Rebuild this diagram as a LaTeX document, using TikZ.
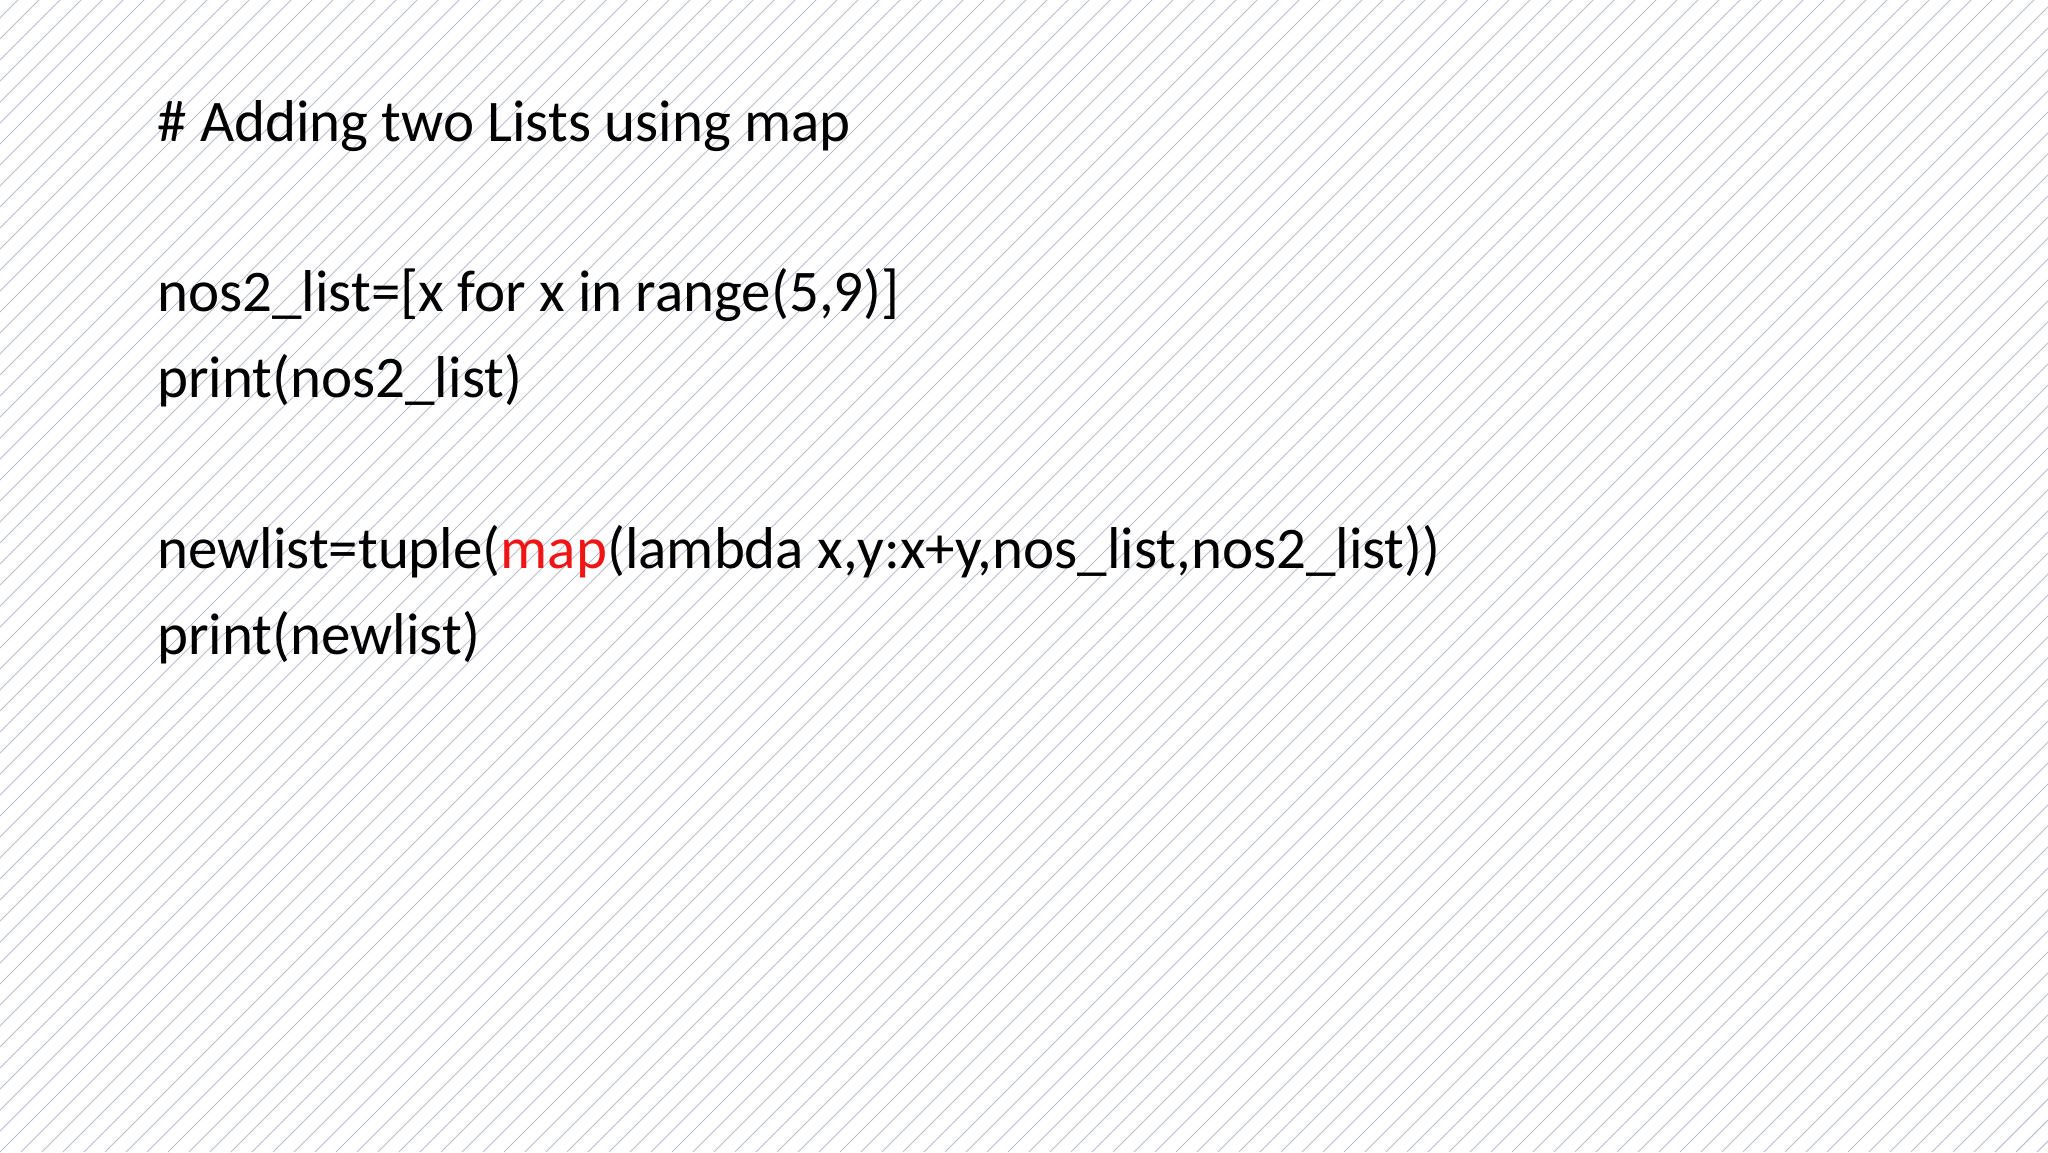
\documentclass[tikz,border=0pt]{standalone}
\usepackage{fontspec}
\setmainfont{Carlito}
\definecolor{hatch}{RGB}{185,192,204}
\definecolor{mapred}{RGB}{240,20,20}
\begin{document}
\begin{tikzpicture}[x=1pt,y=1pt,code/.style={anchor=base west,inner sep=0pt,font=\fontsize{29.5}{36}\selectfont}]
\useasboundingbox (0,0) rectangle (1024,576);
\fill[white] (0,0) rectangle (1024,576);
\begin{scope}
\clip (0,0) rectangle (1024,576);
\foreach \i in {-60,...,100} {
  \draw[hatch,line width=0.5pt] (\i*10.5,0) -- ++(600,600);
}
\end{scope}
\node[code] (l1) at (78.5,576-71) {\# Adding two Lists using map};
\node[code] (l2) at (78.5,576-156) {nos2\_list=[x for x in range(5,9)]};
\node[code] (l3) at (78.5,576-199) {print(nos2\_list)};
\node[code] (l4) at (78.5,576-284.5) {newlist=tuple(\textcolor{mapred}{map}(lambda x,y:x+y,nos\_list,nos2\_list))};
\node[code] (l5) at (78.5,576-327.5) {print(newlist)};
\end{tikzpicture}
\end{document}
